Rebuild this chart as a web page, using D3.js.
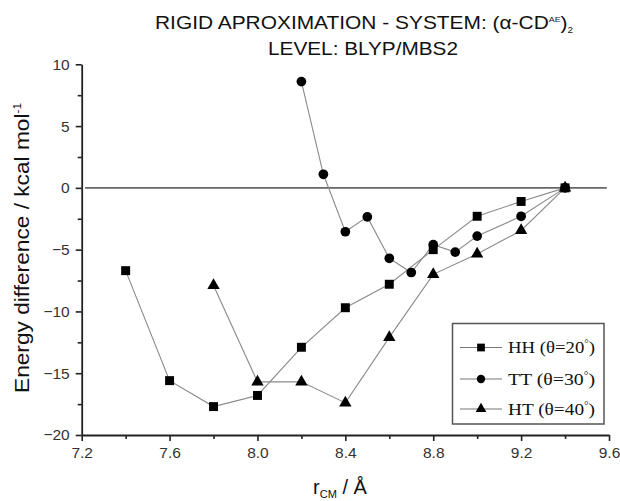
<!DOCTYPE html>
<html><head><meta charset="utf-8">
<script src="https://cdn.jsdelivr.net/npm/d3@7"></script>
<style>body{margin:0;background:#fff}svg{display:block}</style>
</head><body>
<svg id="c" width="620" height="501"></svg>
<script>
const xHH = [7.4,7.6,7.8,8.0,8.2,8.4,8.6,8.8,9.0,9.2,9.4];
const yHH = [-6.7,-15.6,-17.7,-16.8,-12.9,-9.7,-7.8,-5.0,-2.3,-1.1,0];
const xTT = [8.2,8.3,8.4,8.5,8.6,8.7,8.8,8.9,9.0,9.2,9.4];
const yTT = [8.6,1.1,-3.55,-2.35,-5.7,-6.85,-4.6,-5.2,-3.9,-2.3,0];
const xHT = [7.8,8.0,8.2,8.4,8.6,8.8,9.0,9.2,9.4];
const yHT = [-7.9,-15.7,-15.7,-17.4,-12.1,-7.0,-5.35,-3.45,0];
const seriesNames = ["HH (\u03b8=20", "TT (\u03b8=30", "HT (\u03b8=40"];
const xTicks = [7.2,7.6,8.0,8.4,8.8,9.2,9.6];
const xMinor = [7.4,7.8,8.2,8.6,9.0,9.4];
const yTicks = [-20,-15,-10,-5,0,5,10];
const yMinor = [-17.5,-12.5,-7.5,-2.5,2.5,7.5];

const svg = d3.select("#c");
const x = d3.scaleLinear().domain([7.2,9.6]).range([81.7,609]);
const y = d3.scaleLinear().domain([-20,10]).range([435,64.3]);
const axisColor = "#222";
const sans = "Arial, 'Liberation Sans', sans-serif";
const serif = "'Times New Roman', 'Liberation Serif', serif";

// zero line
svg.append("line").attr("x1", x(7.215)).attr("x2", x(9.59)).attr("y1", y(0)).attr("y2", y(0))
  .attr("stroke","#666").attr("stroke-width",1.6);

// axes
const gx = svg.append("g").attr("transform",`translate(0,${y(-20)})`);
gx.call(d3.axisBottom(x).tickValues(xTicks).tickFormat(d3.format(".1f")).tickSize(6).tickSizeOuter(0).tickPadding(6));
gx.append("g").call(d3.axisBottom(x).tickValues(xMinor).tickFormat("").tickSize(4).tickSizeOuter(0))
  .select(".domain").remove();
const gy = svg.append("g").attr("transform",`translate(${x(7.2)},0)`);
gy.call(d3.axisLeft(y).tickValues(yTicks).tickFormat(d3.format("d")).tickSize(6).tickSizeOuter(0).tickPadding(6));
gy.append("g").call(d3.axisLeft(y).tickValues(yMinor).tickFormat("").tickSize(4).tickSizeOuter(0))
  .select(".domain").remove();
svg.selectAll(".domain").attr("stroke",axisColor).attr("stroke-width",1.8);
svg.selectAll(".tick line").attr("stroke",axisColor).attr("stroke-width",1.6);
svg.selectAll(".tick text").attr("font-family",sans).attr("font-size",15.5).attr("fill","#333");

// series
const series = [
  {xs:xHH, ys:yHH, sym:d3.symbolSquare, size:80},
  {xs:xTT, ys:yTT, sym:d3.symbolCircle, size:74},
  {xs:xHT, ys:yHT, sym:d3.symbolTriangle, size:66}
];
const line = d3.line().x(d=>x(d[0])).y(d=>y(d[1]));
series.forEach(s=>{
  const pts = s.xs.map((v,i)=>[v,s.ys[i]]);
  svg.append("path").attr("d",line(pts)).attr("fill","none").attr("stroke","#8a8a8a").attr("stroke-width",1.1);
});
series.forEach(s=>{
  const pts = s.xs.map((v,i)=>[v,s.ys[i]]);
  svg.append("g").selectAll("path").data(pts).join("path")
    .attr("d",d3.symbol(s.sym,s.size))
    .attr("transform",d=>`translate(${x(d[0])},${y(d[1])})`)
    .attr("fill","#000");
});

// legend
const lg = svg.append("g");
lg.append("rect").attr("x",452.5).attr("y",323.5).attr("width",151.5).attr("height",100.5)
  .attr("fill","#fff").attr("stroke","#555").attr("stroke-width",1.5);
const ly = [347.5,379,409];
series.forEach((s,i)=>{
  lg.append("line").attr("x1",460).attr("x2",502).attr("y1",ly[i]).attr("y2",ly[i])
    .attr("stroke","#777").attr("stroke-width",1.1);
  lg.append("path").attr("d",d3.symbol(s.sym,s.size*0.75)).attr("transform",`translate(481,${ly[i]})`).attr("fill","#000");
  const t = lg.append("text").attr("x",508).attr("y",ly[i]+5.5).attr("font-family",serif).attr("font-size",17).attr("fill","#111")
    .attr("textLength",87).attr("lengthAdjust","spacingAndGlyphs");
  t.append("tspan").text(seriesNames[i]);
  t.append("tspan").attr("dy",-6).attr("font-size",10).text("\u00b0");
  t.append("tspan").attr("dy",6).text(")");
});

// title
const t1 = svg.append("text").attr("x",364).attr("y",29).attr("text-anchor","middle")
  .attr("font-family",sans).attr("font-size",19).attr("fill","#111")
  .attr("textLength",418).attr("lengthAdjust","spacingAndGlyphs");
t1.append("tspan").text("RIGID APROXIMATION - SYSTEM: (\u03b1-CD");
t1.append("tspan").attr("dy",-7).attr("font-size",8).text("AE");
t1.append("tspan").attr("dy",7).text(")");
t1.append("tspan").attr("dy",4).attr("font-size",9).text("2");
svg.append("text").attr("x",363).attr("y",54.5).attr("text-anchor","middle")
  .attr("font-family",sans).attr("font-size",19).attr("fill","#111")
  .attr("textLength",190).attr("lengthAdjust","spacingAndGlyphs").text("LEVEL: BLYP/MBS2");

// axis titles
const yl = svg.append("text").attr("transform","translate(29,248) rotate(-90)").attr("text-anchor","middle")
  .attr("font-family",sans).attr("font-size",21).attr("fill","#111")
  .attr("textLength",290).attr("lengthAdjust","spacingAndGlyphs");
yl.append("tspan").text("Energy difference / kcal mol");
yl.append("tspan").attr("dy",-8).attr("font-size",11).text("-1");
const xl = svg.append("text").attr("x",340).attr("y",494).attr("text-anchor","middle")
  .attr("font-family",sans).attr("font-size",20).attr("fill","#111");
xl.append("tspan").text("r");
xl.append("tspan").attr("dy",4).attr("font-size",11).text("CM");
xl.append("tspan").attr("dy",-4).text(" / \u00c5");
</script>
</body></html>
